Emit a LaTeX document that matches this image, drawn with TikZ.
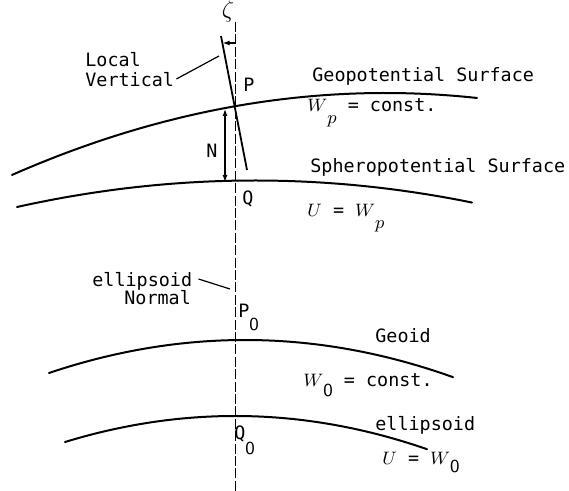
\documentclass[tikz,border=0pt]{standalone}
\usepackage{fontspec}
\setmonofont{DejaVu Sans Mono}
\usetikzlibrary{arrows.meta}

\begin{document}
\begin{tikzpicture}[
  x=0.5pt, y=-0.5pt,
  font=\ttfamily\fontsize{9.2}{11}\selectfont,
  surface/.style={line width=1pt, line cap=round, samples=60},
  normalline/.style={line width=0.5pt, dash pattern=on 5pt off 1.2pt},
  vertline/.style={line width=0.9pt},
  leader/.style={line width=0.6pt},
  arrow/.style={line width=0.6pt, -{Latex[length=3.5pt, width=2.5pt]}},
  dblarrow/.style={line width=0.6pt, {Latex[length=3.5pt, width=2.5pt]}-{Latex[length=3.5pt, width=2.5pt]}},
  lbl/.style={inner sep=0pt, anchor=base west}
]
\useasboundingbox (0,0) rectangle (569,491);

% ellipsoid normal and local vertical
\coordinate (ntop) at (235,22);
\coordinate (nbot) at (235,491);
\coordinate (lvtop) at (221,36);
\coordinate (lvbot) at (247,170);
\draw[normalline] (ntop) -- (nbot);
\draw[vertline] (lvtop) -- (lvbot);

% surfaces
\draw[surface] plot[domain=12:477] (\x, {5.89*((\x-385)/100)^2+93});
\draw[surface] plot[domain=17:472] (\x, {4.68*((\x-255)/100)^2+180.5});
\draw[surface] plot[domain=49:453] (\x, {8.59*((\x-245)/100)^2+340});
\draw[surface] plot[domain=65:427] (\x, {9.0*((\x-235)/100)^2+416});

% zeta
\coordinate (zr) at (235,43);
\coordinate (zl) at (222.6,43);
\draw[arrow] (zr) -- (zl);
\node[inner sep=0pt] (zeta) at (228,12) {\large$\zeta$};

% N
\coordinate (Ntop) at (225,109);
\coordinate (Nbot) at (225,182);
\draw[dblarrow] (Nbot) -- (Ntop);
\node[lbl] (Nlbl) at (206,158) {N};

% point labels
\node[lbl] (Plbl) at (243,92) {P};
\node[lbl] (Qlbl) at (242,205) {Q};
\node[lbl] (P0lbl) at (238,318) {P\raisebox{-6.5pt}{\sffamily 0}};
\node[lbl] (Q0lbl) at (234,440) {Q\raisebox{-7.5pt}{\sffamily 0}};

% local vertical
\node[lbl] (local) at (85,67) {Local};
\node[lbl] (vert) at (85,87) {Vertical};
\coordinate (lvpt) at (219,56);
\draw[leader] ([xshift=1pt,yshift=4pt]vert.base east) -- (lvpt);

% ellipsoid normal
\node[lbl] (ell) at (92,287) {ellipsoid};
\node[lbl] (norm) at (124,305) {Normal};
\coordinate (enpt) at (230,289);
\draw[leader] ([xshift=3pt,yshift=4pt]ell.base east) -- (enpt);

% surface labels
\node[lbl] (geop) at (312,82) {Geopotential Surface};
\node[lbl] (wp) at (307,112) {$W$\raisebox{-6pt}{$p$} = const.};
\node[lbl] (spher) at (310,173) {Spheropotential Surface};
\node[lbl] (uwp) at (307,217) {$U$ = $W$\raisebox{-6pt}{$p$}};
\node[lbl] (geoid) at (375,343) {Geoid};
\node[lbl] (w0) at (303,387) {$W$\raisebox{-5pt}{\sffamily 0} = const.};
\node[lbl] (ellip) at (375,431) {ellipsoid};
\node[lbl] (uw0) at (382,465) {$U$ = $W$\raisebox{-4pt}{\sffamily 0}};
\end{tikzpicture}
\end{document}
